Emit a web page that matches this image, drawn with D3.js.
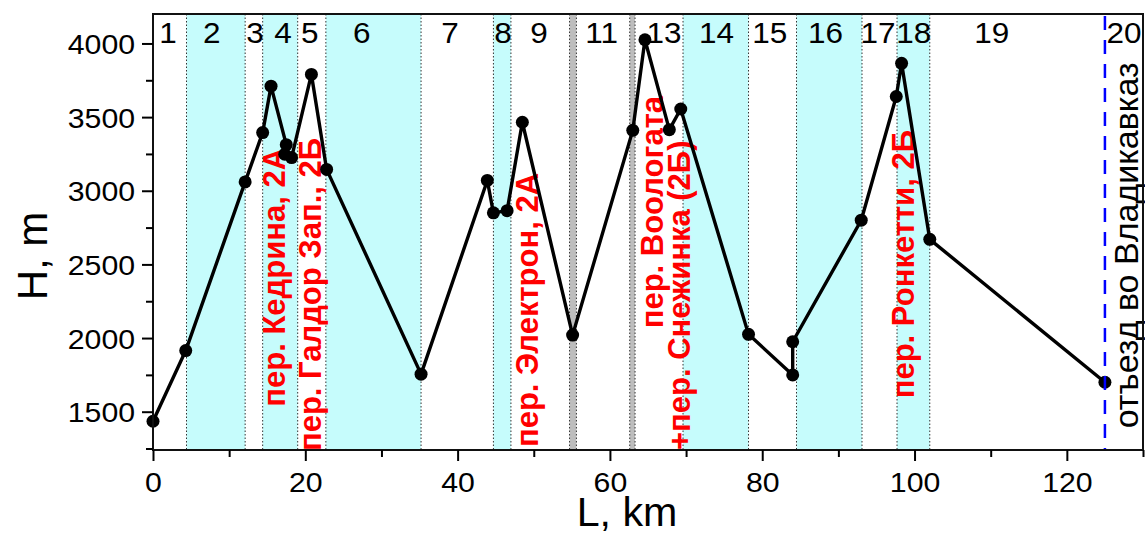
<!DOCTYPE html>
<html><head><meta charset="utf-8">
<script src="https://cdn.jsdelivr.net/npm/d3@7"></script>
<style>
html,body{margin:0;padding:0;background:#fff;overflow:hidden}
svg{display:block}
text{font-family:"Liberation Sans",Arial,sans-serif}
</style></head>
<body>
<svg id="c" width="1145" height="535"></svg>
<script>
// ---- data ----
const distKm = [0, 4.3, 12.1, 14.4, 15.5, 17.5, 17.3, 18.2, 20.8, 22.8, 35.2, 43.9, 44.7, 46.5, 48.5, 55.1, 63.0, 64.6, 67.8, 69.3, 78.2, 84.0, 84.0, 93.0, 97.6, 98.3, 102.0, 125.0];
const altM   = [1435, 1915, 3060, 3395, 3710, 3313, 3248, 3225, 3790, 3145, 1755, 3070, 2850, 2865, 3465, 2020, 3410, 4025, 3415, 3555, 2025, 1750, 1975, 2800, 3640, 3865, 2670, 1700];

const dayStart = [0, 4.4, 12.1, 14.4, 19.0, 22.7, 35.2, 44.7, 47.0, 54.7, 55.6, 62.6, 63.3, 69.6, 78.2, 84.5, 93.1, 97.7, 102.0, 125.0];
const dayKind  = ["w","c","w","c","w","c","w","c","w","g","w","g","w","c","w","c","w","c","w","w"];
const dayNames = ["1","2","3","4","5","6","7","8","9","11","13","14","15","16","17","18","19","20"];
const dayNameKm = [1.97, 7.71, 13.4, 17.07, 20.6, 27.4, 39.0, 45.97, 50.7, 58.9, 67.1, 74.0, 81.0, 88.3, 95.2, 99.9, 110.15, 127.5];

const passNames = ["пер. Кедрина, 2А", "пер. Галдор Зап., 2Б", "пер. Электрон, 2А", "пер. Воологата", "+пер. Снежинка (2Б)", "пер. Ронкетти, 2Б"];
const passKm = [17.34, 22.0, 50.5, 67.0, 70.5, 99.9];
const passH  = [1534, 1233, 1260, 2066, 1240, 1591];
const departText = "отъезд во Владикавказ";
const departKm = 125.0, departLabelKm = 129.4, departLabelH = 1387;

const xTicks = [0, 20, 40, 60, 80, 100, 120];
const xMinor = [10, 30, 50, 70, 90, 110, 130];
const yTicks = [1500, 2000, 2500, 3000, 3500, 4000];
const yMinor = [1250, 1750, 2250, 2750, 3250, 3750];

// ---- layout ----
const L = 153, R = 1143, T = 14, B = 450;
const x = d3.scaleLinear().domain([0, 130]).range([L, R]);
const y = d3.scaleLinear().domain([1240, 4200]).range([B, T]);
const svg = d3.select("#c");

// bands
const bandEnd = dayStart.slice(1).concat([130]);
const fills = {w: "none", c: "#c6fcfc", g: "#bdbdbd"};
svg.append("g").selectAll("rect").data(dayStart).join("rect")
  .attr("x", d => x(d)).attr("y", T)
  .attr("width", (d, i) => x(bandEnd[i]) - x(d)).attr("height", B - T)
  .attr("fill", (d, i) => fills[dayKind[i]]);

// dotted boundaries
const bounds = dayStart.filter(d => d > 0 && d !== departKm);
svg.append("g").selectAll("line").data(bounds).join("line")
  .attr("x1", d => x(d)).attr("x2", d => x(d)).attr("y1", T).attr("y2", B)
  .attr("stroke", "#333").attr("stroke-width", 1).attr("stroke-dasharray", "1.5,2");

// text helper
function label(sel, px, py, str, o) {
  return sel.append("text")
    .attr("transform", `translate(${px},${py}) rotate(${o.rot || 0}) scale(${o.sx || 1},1)`)
    .attr("text-anchor", o.anchor || "start")
    .attr("font-size", o.size).attr("font-weight", o.weight || "normal")
    .attr("fill", o.fill || "#000").text(str);
}

// day labels
const dg = svg.append("g");
dayNames.forEach((n, i) => label(dg, x(dayNameKm[i]), 43, n, {size: 30, anchor: "middle", sx: 1.05}));

// pass labels
const pg = svg.append("g");
passNames.forEach((n, i) => label(pg, x(passKm[i]), y(passH[i]), n, {size: 31, weight: "bold", fill: "#ff0000", rot: -90}));

// line + markers
const pts = distKm.map((d, i) => [d, altM[i]]);
svg.append("path").datum(pts)
  .attr("d", d3.line().x(d => x(d[0])).y(d => y(d[1])))
  .attr("fill", "none").attr("stroke", "#000").attr("stroke-width", 3.4).attr("stroke-linejoin", "round");
svg.append("g").selectAll("circle").data(pts).join("circle")
  .attr("cx", d => x(d[0])).attr("cy", d => y(d[1])).attr("r", 6.5).attr("fill", "#000");

// departure line + label
svg.append("line").attr("x1", x(departKm)).attr("x2", x(departKm)).attr("y1", T + 2).attr("y2", B)
  .attr("stroke", "#0000ff").attr("stroke-width", 2.5).attr("stroke-dasharray", "14,10");
label(svg, x(departLabelKm), y(departLabelH), departText, {size: 34, rot: -90});

// frame
svg.append("rect").attr("x", L).attr("y", T).attr("width", R - L).attr("height", B - T)
  .attr("fill", "none").attr("stroke", "#111").attr("stroke-width", 2);

// axes
function styleAxis(g) {
  g.select(".domain").remove();
  g.selectAll(".tick line").attr("stroke", "#000").attr("stroke-width", 2);
}
const xAx = svg.append("g").attr("transform", `translate(0,${B})`)
  .call(d3.axisBottom(x).tickValues(xTicks).tickSize(11).tickPadding(8).tickFormat(d3.format("d")));
styleAxis(xAx);
xAx.selectAll("text").attr("font-size", 28).attr("fill", "#000").attr("font-family", "Liberation Sans, Arial, sans-serif")
  .attr("y", null).attr("dy", null).attr("transform", "translate(0,42) scale(1.08,1)");
const xMi = svg.append("g").attr("transform", `translate(0,${B})`)
  .call(d3.axisBottom(x).tickValues(xMinor).tickSize(7).tickFormat(""));
styleAxis(xMi);

const yAx = svg.append("g").attr("transform", `translate(${L},0)`)
  .call(d3.axisLeft(y).tickValues(yTicks).tickSize(11).tickPadding(8).tickFormat(d3.format("d")));
styleAxis(yAx);
yAx.selectAll("text").attr("font-size", 28).attr("fill", "#000").attr("font-family", "Liberation Sans, Arial, sans-serif")
  .attr("x", null).attr("dy", "0.36em").attr("transform", "translate(-18,0) scale(1.08,1)");
const yMi = svg.append("g").attr("transform", `translate(${L},0)`)
  .call(d3.axisLeft(y).tickValues(yMinor).tickSize(7).tickFormat(""));
styleAxis(yMi);

// axis titles
label(svg, 627, 526, "L, km", {size: 40, anchor: "middle", sx: 1.03});
label(svg, 47, 256, "H, m", {size: 42, anchor: "middle", rot: -90});
</script>
</body></html>
